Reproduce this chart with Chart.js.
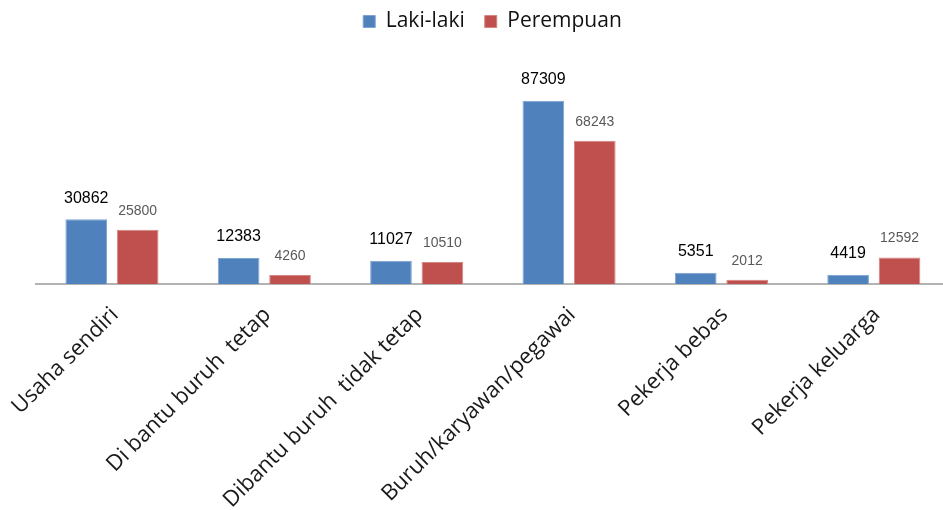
<!DOCTYPE html>
<html>
<head>
<meta charset="utf-8">
<script src="https://cdn.jsdelivr.net/npm/chart.js@4"></script>
<style>
  html, body { margin: 0; padding: 0; background: #fff; overflow: hidden; }
  #wrap { width: 976px; height: 520px; margin-top: -10px; }
</style>
</head>
<body>
<div id="wrap"><canvas id="jobChart"></canvas></div>
<script>
// ── Status pekerjaan by gender ──
const categories = ['Usaha sendiri', 'Di bantu buruh  tetap', 'Dibantu buruh  tidak tetap',
  'Buruh/karyawan/pegawai', 'Pekerja bebas', 'Pekerja keluarga'];
const lakiLaki = [30862, 12383, 11027, 87309, 5351, 4419];
const perempuan = [25800, 4260, 10510, 68243, 2012, 12592];

// value labels above bars
const valueLabels = {
  id: 'valueLabels',
  afterDatasetsDraw(chart) {
    const ctx = chart.ctx;
    chart.data.datasets.forEach((ds, i) => {
      const meta = chart.getDatasetMeta(i);
      ctx.save();
      ctx.textAlign = 'center';
      ctx.textBaseline = 'middle';
      ctx.font = i === 0 ? '16px "Liberation Sans", Arial' : '14px "Liberation Sans", Arial';
      ctx.fillStyle = i === 0 ? '#000' : '#595959';
      meta.data.forEach((bar, j) => {
        ctx.fillText(ds.data[j], bar.x, bar.y - (i === 0 ? 21 : 19));
      });
      ctx.restore();
    });
  }
};

// extra room under the legend
const legendGap = {
  id: 'legendGap',
  beforeInit(chart) {
    const fit = chart.legend.fit;
    chart.legend.fit = function () { fit.bind(chart.legend)(); this.height += 32; };
  }
};

new Chart(document.getElementById('jobChart').getContext('2d'), {
  type: 'bar',
  data: {
    labels: categories,
    datasets: [
      { label: 'Laki-laki', data: lakiLaki, backgroundColor: '#4f81bd', borderColor: '#7fa3d0', borderWidth: 1,
        barPercentage: 0.81, categoryPercentage: 0.675 },
      { label: 'Perempuan', data: perempuan, backgroundColor: '#c0504d', borderColor: '#d28583', borderWidth: 1,
        barPercentage: 0.81, categoryPercentage: 0.675 }
    ]
  },
  options: {
    responsive: true, maintainAspectRatio: false, animation: false,
    layout: { padding: { left: 35, right: 26, top: 1, bottom: 0 } },
    plugins: {
      legend: {
        position: 'top',
        labels: { boxWidth: 12, boxHeight: 12, padding: 20, color: '#111',
          font: { family: 'Open Sans', size: 21 } }
      },
      tooltip: { enabled: false }
    },
    scales: {
      y: { display: false, min: 0, max: 100000 },
      x: {
        grid: { display: false },
        border: { display: true, color: '#b3b3b3', width: 2 },
        ticks: { maxRotation: 45, minRotation: 45, color: '#1a1a1a', padding: 10, labelOffset: 3,
          font: { family: 'Open Sans', size: 22 } },
        afterFit(scale) { scale.height = 226; }
      }
    }
  },
  plugins: [valueLabels, legendGap]
});
</script>
</body>
</html>
